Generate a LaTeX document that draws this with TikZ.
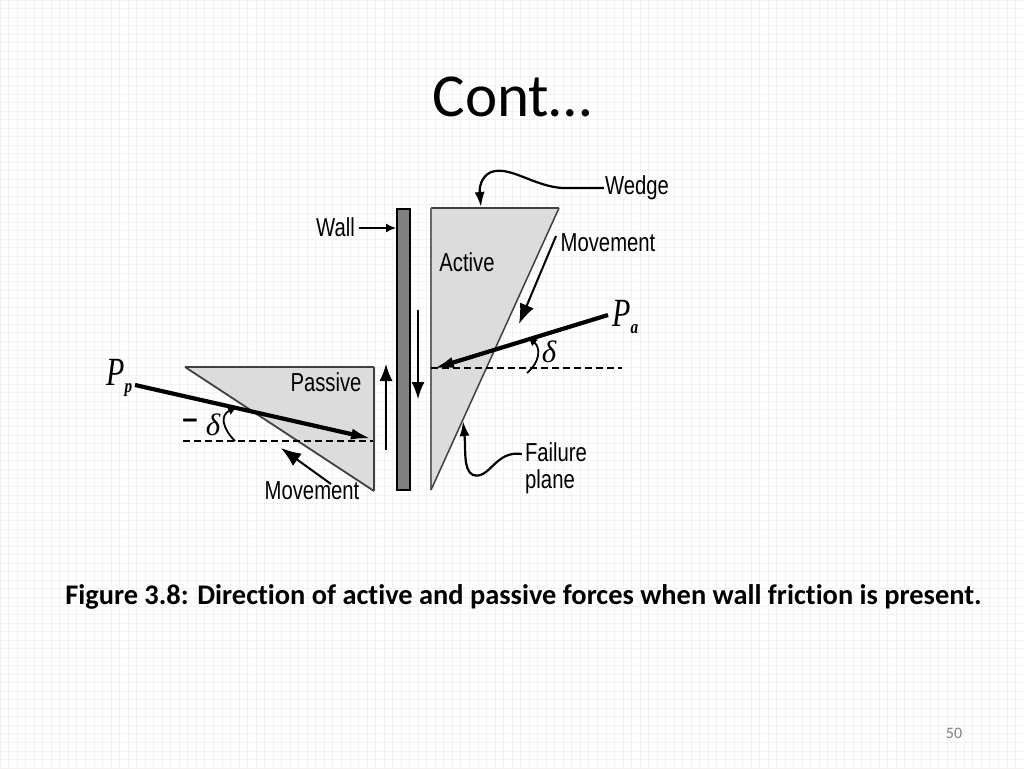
\documentclass[tikz,border=0pt]{standalone}
\usepackage{fontspec}
\setmainfont[Ligatures=CommonOff]{Carlito}
\newfontfamily\lblfont{Liberation Sans}
\newfontfamily\symfont{Liberation Serif}
\usetikzlibrary{arrows.meta}
\definecolor{gridc}{HTML}{F4F1F1}
\definecolor{wedgefill}{HTML}{DCDCDC}
\definecolor{wallfill}{HTML}{808080}
\definecolor{edgec}{HTML}{404040}
\newcommand{\narrow}[1]{\scalebox{0.78}[1]{#1}}
\newcommand{\forcelabel}[1]{\scalebox{0.75}[1]{\fontsize{40}{40}\selectfont P}\raisebox{-7pt}{\scalebox{0.8}[1]{\bfseries\fontsize{19}{19}\selectfont #1}}}
\tikzset{
  x=1pt,y=-1pt,
  gridline/.style={gridc,line width=0.7pt},
  label/.style={font=\lblfont\fontsize{26}{30}\selectfont,inner sep=0pt,anchor=center,text=black},
  sym/.style={font=\symfont\itshape,inner sep=0pt,text=black},
  delta/.style={font=\symfont\itshape\fontsize{31}{31}\selectfont,inner sep=0pt,text=black},
  thin arrow/.style={line width=1.5pt,-{Latex[length=17pt,width=13pt]}},
  med arrow/.style={line width=2pt,-{Latex[length=20pt,width=15pt]}},
  force/.style={line width=4.2pt,-{Latex[length=22pt,width=11pt]}},
  curve arrow/.style={line width=2.2pt,-{Latex[length=15pt,width=10pt]}},
  datum/.style={line width=1.3pt,dash pattern=on 7pt off 4pt},
}
\begin{document}
\begin{tikzpicture}
\useasboundingbox (0,0) rectangle (1024,768);
\fill[white] (0,0) rectangle (1024,768);
\foreach \i in {0,...,120} {\draw[gridline] (\i*8.533,0) -- (\i*8.533,768);}
\foreach \i in {0,...,90} {\draw[gridline] (0,\i*8.533) -- (1024,\i*8.533);}

% title and caption
\node[font=\fontsize{61}{66}\selectfont,inner sep=0pt] (title) at (512,97) {Cont…};
\node[font=\bfseries\fontsize{28.4}{32}\selectfont,inner sep=0pt] (caption) at (523.5,596.5) {Figure 3.8: Direction of active and passive forces when wall friction is present.};
\node[font=\fontsize{16}{18}\selectfont,text=black!50,inner sep=0pt] (pageno) at (954,733) {50};

% wall
\node[draw=black,line width=2pt,fill=wallfill,minimum width=13pt,minimum height=281pt,inner sep=0pt] (wall) at (403.5,349.5) {};

% active wedge
\coordinate (aTL) at (431,208);
\coordinate (aTR) at (559,208);
\coordinate (aB) at (431,490);
\fill[wedgefill] (aTL) -- (aTR) -- (aB) -- cycle;
\draw[edgec,line width=2.5pt] (aTL) -- (aTR);
\draw[black!60,line width=2pt] (aTL) -- (aB);
\draw[edgec,line width=1.5pt] (aTR) -- (aB);

% passive wedge
\coordinate (pTL) at (185,367);
\coordinate (pTR) at (374,367);
\coordinate (pB) at (374,491);
\fill[wedgefill] (pTL) -- (pTR) -- (pB) -- cycle;
\draw[edgec,line width=2pt] (pTL) -- (pTR);
\draw[edgec,line width=2.5pt] (pTR) -- (pB);
\draw[edgec,line width=1.8pt] (pTL) -- (pB);

% labels
\node[label] (wallT) at (335.5,227) {\narrow{Wall}};
\node[label] (wedgeT) at (637,188) {\narrow{Wedge}};
\node[label] (activeT) at (467,262) {\narrow{Active}};
\node[label] (moveA) at (608,243) {\narrow{Movement}};
\node[label] (passiveT) at (326,382) {\narrow{Passive}};
\node[label] (moveP) at (312,491) {\narrow{Movement}};
\node[label] (failT) at (556,452) {\narrow{Failure}};
\node[label] (planeT) at (550,482) {\narrow{plane}};
\node[sym,anchor=west] (Pa) at (612,317) {\forcelabel{a}};
\node[sym,anchor=west] (Pp) at (106,378) {\forcelabel{p}};
\node[delta] (deltaA) at (549,352) {δ};
\node[delta] (deltaP) at (213,425) {δ};
\node[inner sep=0pt,font=\lblfont\bfseries\fontsize{27}{27}\selectfont] (minusP) at (190,424) {−};

% datum lines
\coordinate (dA1) at (431,368);
\coordinate (dA2) at (622,368);
\coordinate (dP1) at (183,441);
\coordinate (dP2) at (373,441);
\draw[datum] (dA1) -- (dA2);
\draw[datum] (dP1) -- (dP2);

% forces
\coordinate (PaS) at (608,315);
\coordinate (PaE) at (432,369);
\coordinate (PpS) at (135,385);
\coordinate (PpE) at (373,439);
\draw[force] (PaS) -- (PaE);
\draw[force] (PpS) -- (PpE);

% wall friction arrows
\coordinate (upS) at (386,450);
\coordinate (upE) at (386,364);
\coordinate (dnS) at (418,310);
\coordinate (dnE) at (418,399);
\draw[thin arrow] (upS) -- (upE);
\draw[thin arrow] (dnS) -- (dnE);

% movement arrows
\coordinate (mAS) at (556,236);
\coordinate (mAE) at (519,324);
\coordinate (mPS) at (331,484);
\coordinate (mPE) at (281,448);
\draw[med arrow] (mAS) -- (mAE);
\draw[med arrow] (mPS) -- (mPE);

% wall pointer
\coordinate (wallTip) at (396,228);
\draw[line width=1.5pt,-{Latex[length=10pt,width=9pt]}] (wallT.east) ++(4,1) -- (wallTip);

% wedge pointer
\coordinate (wedgeTip) at (481,207);
\draw[curve arrow] (wedgeT.west) ++(-1,0) -- (570,188)
  .. controls (540,190) and (515,168) .. (495,171)
  .. controls (483,173) and (479,185) .. (wedgeTip);

% failure pointer
\coordinate (failTip) at (463,421);
\draw[curve arrow] (failT.west) ++(-3,2)
  .. controls (495,450) and (490,480) .. (473,475)
  .. controls (463,470) and (466,450) .. (failTip);

% angle curves
\coordinate (angAe) at (528,337);
\draw[line width=1.8pt,-{Latex[length=9pt,width=9pt]}] (527,373)
  .. controls (540,362) and (541,348) .. (angAe);
\coordinate (angPe) at (237,407);
\draw[line width=1.8pt,-{Latex[length=9pt,width=9pt]}] (235,441)
  .. controls (222,428) and (220,415) .. (angPe);
\end{tikzpicture}
\end{document}
